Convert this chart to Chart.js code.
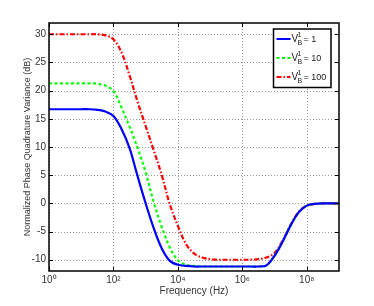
<!DOCTYPE html>
<html lang="en">
<head>
    <meta charset="UTF-8">
    <title>Phase quadrature variance</title>
    <style>
        html, body { margin: 0; padding: 0; background: #fff; }
        #wrap { width: 374px; height: 306px; }
    </style>
</head>
<body>
<div id="wrap">
    <canvas id="chart" width="374" height="306"></canvas>
</div>
<script src="https://cdn.jsdelivr.net/npm/chart.js@4/dist/chart.umd.min.js"></script>
<script>
    'use strict';
    // frequency samples, 4 per decade, 10^0 .. 10^9 Hz
    var logFreq = [0, 0.25, 0.5, 0.75, 1, 1.25, 1.5, 1.75, 2, 2.25, 2.5, 2.75, 3, 3.25, 3.5, 3.75, 4, 4.25, 4.5,
        4.75, 5, 5.25, 5.5, 5.75, 6, 6.25, 6.5, 6.75, 7, 7.25, 7.5, 7.75, 8, 8.25, 8.5, 8.75, 9];
    // values (dB)
    var vb1 = [16.7, 16.7, 16.7, 16.7, 16.7, 16.7, 16.6, 16.3, 15.5, 13.2, 9.8, 4.8, 0.0, -4.4, -8.0, -10.2, -10.9,
        -11.1, -11.2, -11.2, -11.2, -11.2, -11.2, -11.2, -11.2, -11.2, -11.2, -11.0, -9.3, -6.8, -3.9, -1.6, -0.4,
        -0.1, 0, 0, 0];
    var vb10 = [21.3, 21.3, 21.3, 21.3, 21.3, 21.3, 21.2, 20.9, 19.9, 17.0, 13.6, 9.8, 5.5, 0.2, -4.2, -7.8, -10.1,
        -10.9, -11.1, -11.2, -11.2, -11.2, -11.2, -11.2, -11.2, -11.2, -11.2, -11.0, -9.3, -6.8, -3.9, -1.6, -0.4,
        -0.1, 0, 0, 0];
    var vb100 = [30.0, 30.0, 30.0, 30.0, 30.0, 30.0, 30.0, 29.8, 29.1, 26.8, 22.7, 18.0, 13.7, 9.4, 5.0, -0.2, -4.0,
        -7.2, -8.9, -9.6, -9.9, -10.0, -10.0, -10.0, -10.0, -10.0, -9.9, -9.6, -8.8, -6.6, -3.8, -1.5, -0.4,
        -0.1, 0, 0, 0];
    var seriesNames = ['1', '10', '100'];
    var xTicks = [1, 1e2, 1e4, 1e6, 1e8];
    var xTickText = ['10\u2070', '10\u00b2', '10\u2074', '10\u2076', '10\u2078'];
    var yTicks = [-10, -5, 0, 5, 10, 15, 20, 25, 30];

    var fontFamily = "'Liberation Sans', Arial, sans-serif";

    function points(vals) {
        return vals.map(function (v, i) {
            return {x: Math.pow(10, logFreq[i]), y: v};
        });
    }

    //пунктирная сетка под линиями (только внутри области графика)
    var dottedGrid = {
        id: 'dottedGrid',
        beforeDatasetsDraw: function (chart) {
            var c = chart.ctx, a = chart.chartArea;
            var sx = chart.scales.x, sy = chart.scales.y;
            c.save();
            c.beginPath();
            c.rect(a.left, a.top, a.right - a.left, a.bottom - a.top);
            c.clip();
            c.strokeStyle = '#999';
            c.lineWidth = 1;
            c.setLineDash([1, 2]);
            xTicks.forEach(function (t) {
                var px = Math.round(sx.getPixelForValue(t)) + 0.5;
                c.beginPath();
                c.moveTo(px, a.top);
                c.lineTo(px, a.bottom);
                c.stroke();
            });
            yTicks.forEach(function (t) {
                var py = Math.round(sy.getPixelForValue(t)) + 0.5;
                c.beginPath();
                c.moveTo(a.left, py);
                c.lineTo(a.right, py);
                c.stroke();
            });
            c.restore();
        }
    };

    //рамка, внутренние засечки и легенда в стиле matlab
    var frame = {
        id: 'frame',
        afterDraw: function (chart) {
            var c = chart.ctx, a = chart.chartArea;
            var sx = chart.scales.x, sy = chart.scales.y;
            c.save();
            c.setLineDash([]);
            c.strokeStyle = '#000';
            c.lineWidth = 1;
            c.beginPath();
            xTicks.forEach(function (t) {
                var px = Math.round(sx.getPixelForValue(t)) + 0.5;
                c.moveTo(px, a.bottom); c.lineTo(px, a.bottom - 4);
                c.moveTo(px, a.top); c.lineTo(px, a.top + 4);
            });
            yTicks.forEach(function (t) {
                var py = Math.round(sy.getPixelForValue(t)) + 0.5;
                c.moveTo(a.left, py); c.lineTo(a.left + 4, py);
                c.moveTo(a.right, py); c.lineTo(a.right - 4, py);
            });
            c.stroke();
            c.lineWidth = 1.5;
            c.strokeRect(a.left, a.top, a.right - a.left, a.bottom - a.top);

            // legend
            var bx = a.right - 65.5, by = a.top + 6, bw = 57.5, bh = 58.5;
            c.fillStyle = '#fff';
            c.fillRect(bx, by, bw, bh);
            c.strokeRect(bx, by, bw, bh);
            chart.data.datasets.forEach(function (ds, i) {
                var ly = by + 10 + i * 19;
                c.strokeStyle = ds.borderColor;
                c.lineWidth = 2;
                c.setLineDash(ds.borderDash || []);
                c.beginPath();
                c.moveTo(bx + 3, ly); c.lineTo(bx + 17, ly);
                c.stroke();
                c.setLineDash([]);
                c.fillStyle = '#222';
                c.textBaseline = 'middle';
                c.textAlign = 'left';
                c.font = '10px ' + fontFamily;
                c.fillText('V', bx + 18, ly);
                c.font = '7px ' + fontFamily;
                c.fillText('1', bx + 24, ly - 4);
                c.fillText('B', bx + 24, ly + 4);
                c.font = '9px ' + fontFamily;
                c.fillText('= ' + seriesNames[i], bx + 30, ly + 1);
            });
            c.restore();
        }
    };

    var ctx = document.getElementById('chart');
    var chart = new Chart(ctx, {
        type: 'line',
        data: {
            datasets: [{
                label: 'V_B^1 = 1',
                data: points(vb1),
                borderColor: '#0000ff',
                borderWidth: 2.2
            }, {
                label: 'V_B^1 = 10',
                data: points(vb10),
                borderColor: '#00ff00',
                borderWidth: 2.2,
                borderDash: [3, 2.5]
            }, {
                label: 'V_B^1 = 100',
                data: points(vb100),
                borderColor: '#ff0000',
                borderWidth: 2.2,
                borderDash: [5, 2, 1.5, 2]
            }]
        },
        options: {
            responsive: false,
            animation: false,
            devicePixelRatio: 1,
            layout: {padding: {left: 18, top: 23, right: 35, bottom: 5}},
            elements: {
                point: {radius: 0},
                line: {tension: 0.35, fill: false}
            },
            plugins: {legend: {display: false}, tooltip: {enabled: false}},
            scales: {
                x: {
                    type: 'logarithmic',
                    min: 1,
                    max: 1e9,
                    afterBuildTicks: function (scale) {
                        scale.ticks = xTicks.map(function (v) { return {value: v}; });
                    },
                    afterFit: function (scale) { scale.height = 30; },
                    ticks: {
                        autoSkip: false,
                        maxRotation: 0,
                        padding: 3,
                        color: '#333',
                        font: {family: fontFamily, size: 10},
                        callback: function (v) {
                            var i = xTicks.indexOf(v);
                            return i < 0 ? '' : xTickText[i];
                        }
                    },
                    grid: {display: false, drawTicks: false},
                    border: {display: false},
                    title: {
                        display: true,
                        text: 'Frequency (Hz)',
                        color: '#333',
                        font: {family: fontFamily, size: 10},
                        padding: {top: 0, bottom: 4}
                    }
                },
                y: {
                    type: 'linear',
                    min: -12,
                    max: 32,
                    afterBuildTicks: function (scale) {
                        scale.ticks = yTicks.map(function (v) { return {value: v}; });
                    },
                    afterFit: function (scale) { scale.width = 31; },
                    ticks: {
                        padding: 3,
                        color: '#333',
                        font: {family: fontFamily, size: 10}
                    },
                    grid: {display: false, drawTicks: false},
                    border: {display: false},
                    title: {
                        display: true,
                        text: 'Normalized Phase Quadrature Variance (dB)',
                        color: '#333',
                        font: {family: fontFamily, size: 9},
                        padding: {top: 4, bottom: 0}
                    }
                }
            }
        },
        plugins: [dottedGrid, frame]
    });
</script>
</body>
</html>
